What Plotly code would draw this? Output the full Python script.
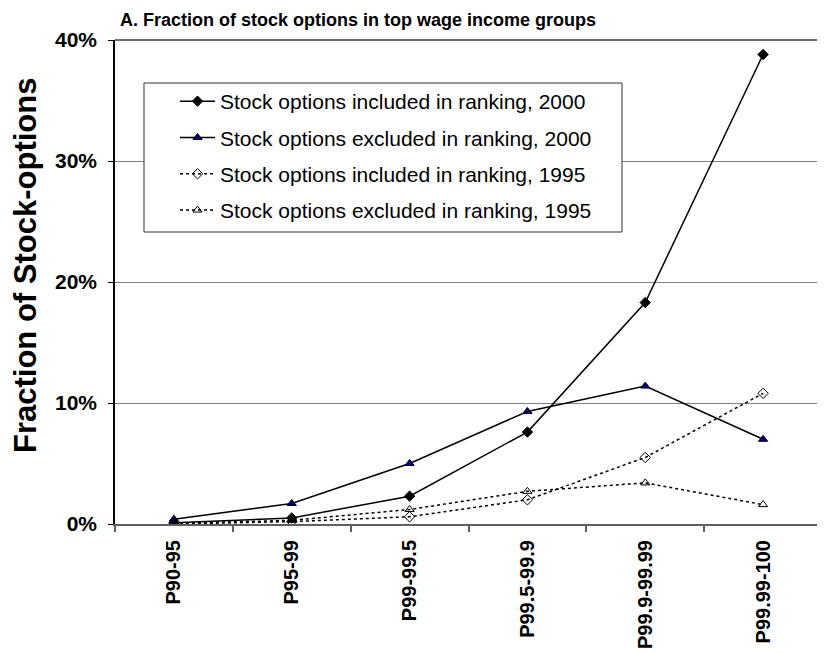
import plotly.graph_objects as go

categories = ["P90-95", "P95-99", "P99-99.5", "P99.5-99.9", "P99.9-99.99", "P99.99-100"]
incl_2000 = [0.001, 0.005, 0.023, 0.076, 0.183, 0.388]
excl_2000 = [0.004, 0.017, 0.050, 0.093, 0.114, 0.070]
incl_1995 = [0.000, 0.002, 0.006, 0.020, 0.055, 0.108]
excl_1995 = [0.0005, 0.003, 0.012, 0.027, 0.034, 0.016]
names = [
    "Stock options included in ranking, 2000",
    "Stock options excluded in ranking, 2000",
    "Stock options included in ranking, 1995",
    "Stock options excluded in ranking, 1995",
]
y_ticks = [0, 0.1, 0.2, 0.3, 0.4]
y_ticklabels = ["0%", "10%", "20%", "30%", "40%"]

FONT = "Liberation Sans, Arial, sans-serif"
# page body has an 8px margin, so figure coords = screen coords - 8
OFF = 8
W, H = 825 - OFF, 653 - OFF
L, R, T, B = 115 - OFF, 822 - OFF, 40 - OFF, 524 - OFF
PW, PH = R - L, B - T

def px_x(x):
    return (x - OFF - L) / PW

def px_y(y):
    return (B - (y - OFF)) / PH

fig = go.Figure()
styles = [
    (incl_2000, "solid", dict(symbol="diamond", size=8, color="black", line=dict(color="black", width=1))),
    (excl_2000, "solid", dict(symbol="triangle-up", size=8, color="#000080", line=dict(color="black", width=1))),
    (incl_1995, "3px,3px", dict(symbol="diamond-open", size=8, color="black", line=dict(color="black", width=1))),
    (excl_1995, "3px,3px", dict(symbol="triangle-up-open", size=8, color="black", line=dict(color="black", width=1))),
]
for i, (vals, dash, marker) in enumerate(styles):
    fig.add_trace(go.Scatter(
        x=categories, y=vals, name=names[i], mode="lines+markers",
        line=dict(color="black", width=1.5, dash=dash),
        marker=marker, legendgroup=f"g{i}",
    ))

fig.update_layout(
    width=W, height=H,
    margin=dict(l=L, r=W - R, t=T, b=H - B),
    paper_bgcolor="white", plot_bgcolor="white",
    font=dict(family=FONT, color="black"),
    title=dict(text="<b>A. Fraction of stock options in top wage income groups</b>",
               x=(120 - OFF) / W, xanchor="left", xref="container",
               y=1 - (20 - OFF) / H, yanchor="middle", yref="container",
               font=dict(size=18, family=FONT, color="black")),
    showlegend=True,
    legend=dict(x=px_x(175), y=px_y(81), xanchor="left", yanchor="top",
                borderwidth=0, bgcolor="rgba(0,0,0,0)",
                font=dict(size=21, family=FONT, color="black"),
                tracegroupgap=6, itemwidth=35),
    xaxis=dict(
        type="category", range=[-0.5, 5.5], automargin=False,
        showline=True, linecolor="#606060", linewidth=2,
        ticks="outside", ticklen=6, tickcolor="#606060", tickwidth=1.5,
        tickson="boundaries", tickangle=-90, ticklabelstandoff=6,
        tickfont=dict(size=20, family=FONT, color="black", weight="bold"),
        showgrid=False, mirror=False, fixedrange=True,
    ),
    yaxis=dict(
        range=[0, 0.4], tickvals=y_ticks, ticktext=y_ticklabels, automargin=False,
        showline=True, linecolor="black", linewidth=1.5,
        ticks="outside", ticklen=5, tickcolor="black", ticklabelstandoff=7,
        tickfont=dict(size=21, family=FONT, color="black", weight="bold"),
        showgrid=True, gridcolor="#808080", gridwidth=1,
        zeroline=False,
    ),
)
# y-axis title
fig.add_annotation(text="<b>Fraction of Stock-options</b>", textangle=-90,
                   xref="paper", yref="paper", x=px_x(25), y=px_y(266),
                   xanchor="center", yanchor="middle", showarrow=False,
                   font=dict(size=31, family=FONT, color="black"))
# legend frame
fig.add_shape(type="rect", xref="paper", yref="paper",
              x0=px_x(144), x1=px_x(622), y0=px_y(232), y1=px_y(83),
              line=dict(color="#333333", width=1), fillcolor="white", layer="above")
# top and right border of plot area
fig.add_shape(type="line", xref="paper", yref="paper", x0=0, x1=1, y0=1, y1=1,
              line=dict(color="#404040", width=1.5))
fig.add_shape(type="line", xref="paper", yref="paper", x0=1, x1=1, y0=0, y1=1,
              line=dict(color="#404040", width=1.5))

fig.write_html("out.html")
